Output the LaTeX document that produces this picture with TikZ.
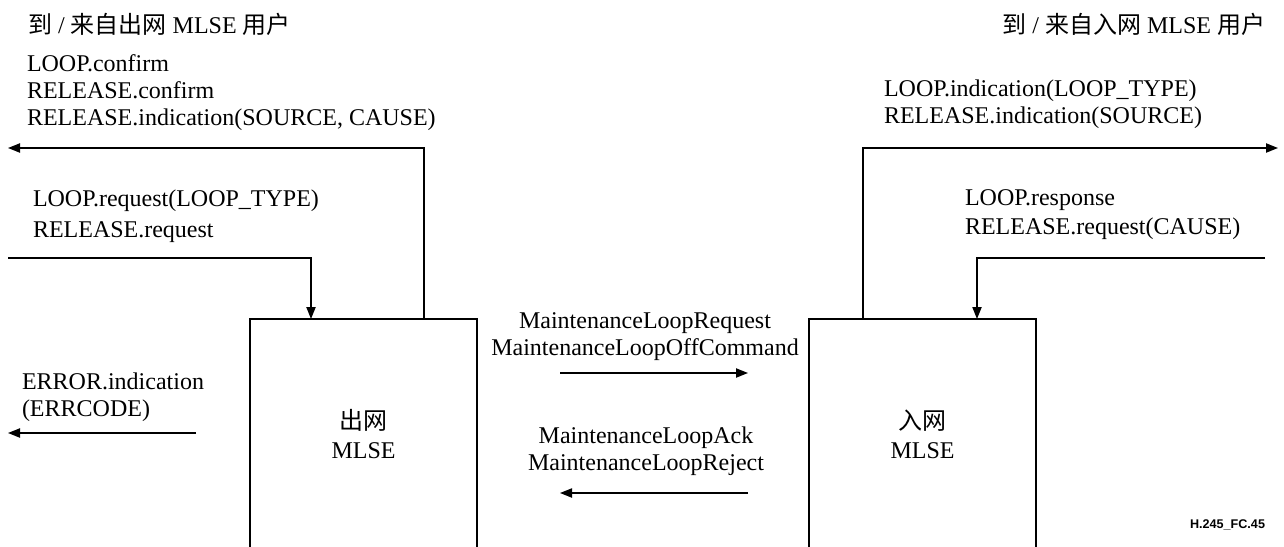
\documentclass[tikz,border=0pt]{standalone}
\usepackage{fontspec}
\setmainfont{Liberation Serif}
\newfontfamily\cjk{Noto Sans CJK SC}
\newfontfamily\labelsans{Liberation Sans}
\usetikzlibrary{arrows.meta}
\begin{document}
\begin{tikzpicture}[x=0.5pt,y=-0.5pt,
  every node/.style={font=\fontsize{12}{13.3}\selectfont, inner sep=0pt, outer sep=0pt},
  lbl/.style={anchor=base west, align=left},
  mlbl/.style={anchor=base, align=center},
  mbox/.style={draw, line width=0.75pt, minimum width=113.5pt, minimum height=115pt, align=center},
  conn/.style={line width=0.75pt},
  arr/.style={conn, -{Triangle[length=6pt,width=4.6pt]}}]
\useasboundingbox (0,0) rectangle (1284,546);
\clip (0,0) rectangle (1284,546);

% boxes
\node[mbox] (A) at (363.5,434) {{\cjk 出网}\\[1pt]MLSE};
\node[mbox] (B) at (922.5,434) {{\cjk 入网}\\[1pt]MLSE};

% titles
\node[anchor=base west] (tl) at (28,33) {{\cjk 到} / {\cjk 来自出网} MLSE {\cjk 用户}};
\node[anchor=base east] (tr) at (1265,33) {{\cjk 到} / {\cjk 来自入网} MLSE {\cjk 用户}};

% helper coordinates
\coordinate (xAout) at (424,0);
\coordinate (xAin) at (311,0);
\coordinate (xBout) at (863,0);
\coordinate (xBin) at (977,0);
\coordinate (Lout) at (8,148);
\coordinate (Lin) at (8,258);
\coordinate (Rout) at (1278,148);
\coordinate (Rin) at (1265,258);
\coordinate (Es) at (196,433);
\coordinate (Ee) at (8,433);
\coordinate (m1s) at (560,373);
\coordinate (m1e) at (748,373);
\coordinate (m2s) at (748,493);
\coordinate (m2e) at (560,493);

% left side labels (anchor = baseline of last line)
\node[lbl] (l1) at (27,125) {LOOP.confirm\\RELEASE.confirm\\RELEASE.indication(SOURCE, CAUSE)};
\node[lbl] (l2) at (33,237) {LOOP.request(LOOP\_TYPE)\\[2pt]RELEASE.request};
\node[lbl] (l3) at (22,416) {ERROR.indication\\(ERRCODE)};

% right side labels
\node[lbl] (r1) at (884,123) {LOOP.indication(LOOP\_TYPE)\\RELEASE.indication(SOURCE)};
\node[lbl] (r2) at (965,234) {LOOP.response\\[1pt]RELEASE.request(CAUSE)};

% middle labels
\node[mlbl] (m1) at (645,355) {MaintenanceLoopRequest\\MaintenanceLoopOffCommand};
\node[mlbl] (m2) at (646,470) {MaintenanceLoopAck\\MaintenanceLoopReject};

% connectors
\draw[arr] (A.north -| xAout) |- (Lout);
\draw[arr] (Lin) -| (A.north -| xAin);
\draw[arr] (B.north -| xBout) |- (Rout);
\draw[arr] (Rin) -| (B.north -| xBin);
\draw[arr] (Es) -- (Ee);
\draw[arr] (m1s) -- (m1e);
\draw[arr] (m2s) -- (m2e);

% figure tag
\node[anchor=base east, font=\labelsans\bfseries\fontsize{6.3}{7}\selectfont] (tag) at (1265,528) {H.245\_FC.45};
\end{tikzpicture}
\end{document}
